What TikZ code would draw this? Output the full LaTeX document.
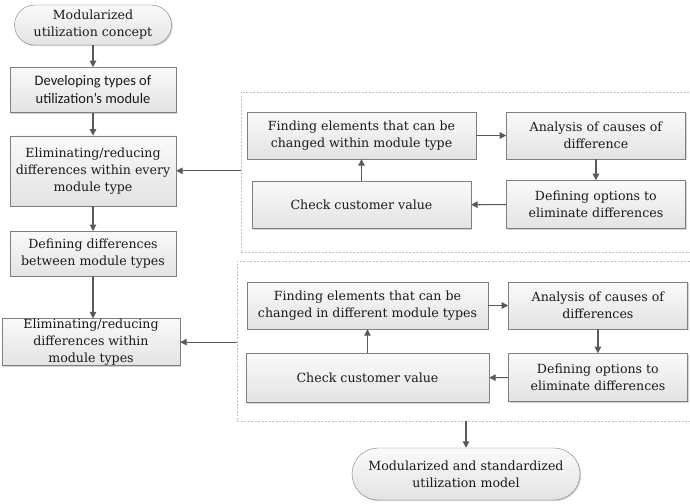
\documentclass[tikz,border=0pt]{standalone}
\usepackage{fontspec}
\setmainfont{DejaVu Serif}
\newfontfamily\calibrilike{Carlito}
\usetikzlibrary{arrows.meta,positioning,shadows}
\definecolor{edge}{HTML}{7F7F7F}
\definecolor{arrowgray}{HTML}{595959}
\definecolor{ink}{HTML}{1A1A1A}
\definecolor{frameline}{HTML}{BFBFBF}

\tikzset{
  stepbox/.style={draw=edge,top color=gray!4,bottom color=gray!22,text=ink,align=center,
    font=\fontsize{12.6}{17}\selectfont,inner sep=1pt,
    drop shadow={shadow xshift=1.2pt,shadow yshift=-1.2pt,opacity=.35,fill=gray}},
  terminal/.style={stepbox,rounded corners=20pt},
  frame/.style={draw=frameline,dash pattern=on 2pt off 1.5pt,line width=.6pt},
  arr/.style={-{Triangle[length=6.5pt,width=6.5pt]},line width=1.2pt,arrowgray},
}

\begin{document}
\begin{tikzpicture}[node distance=22pt and 30pt]
\useasboundingbox (0,0) rectangle (690pt,-503pt);
% main column
\node[terminal,minimum width=157pt,minimum height=40pt] (start) at (93pt,-25pt) {Modularized\\utilization concept};
\node[stepbox,minimum width=166pt,minimum height=45pt,below=22pt of start,font=\calibrilike\fontsize{14.5}{18}\selectfont] (dev) {Developing types of\\utilization’s module};
\node[stepbox,minimum width=166pt,minimum height=70pt,below=23pt of dev] (elim1) {Eliminating/reducing\\differences within every\\module type};
\node[stepbox,minimum width=166pt,minimum height=45pt,below=25pt of elim1] (defd) {Defining differences\\between module types};
\node[stepbox,minimum width=178pt,minimum height=47pt,inner sep=0pt,below=42pt of defd,xshift=-2pt] (elim2) {Eliminating/reducing\\differences within\\module types};
\foreach \a/\b in {start/dev,dev/elim1,elim1/defd}{\draw[arr] (\a)--(\b);}
\draw[arr] (defd)--(defd.south |- elim2.north);

% loop within a module type
\node[frame,minimum width=459pt,minimum height=160pt] (frame1) at (470.5pt,-172pt) {};
\node[stepbox,minimum width=229pt,minimum height=47pt] (find1) at (361.5pt,-135.5pt) {Finding elements that can be\\changed within module type};
\node[stepbox,minimum width=179pt,minimum height=47pt,right=30pt of find1] (ana1) {Analysis of causes of\\difference};
\node[stepbox,minimum width=179pt,minimum height=48pt,below=21pt of ana1] (opt1) {Defining options to\\eliminate differences};
\node[stepbox,minimum width=219pt,minimum height=47pt,below=22pt of find1] (chk1) {Check customer value};
\foreach \a/\b in {find1/ana1,ana1/opt1,opt1/chk1,chk1/find1}{\draw[arr] (\a)--(\b);}
\draw[arr] (elim1.east -| frame1.west)--(elim1);

% loop between module types
\node[frame,minimum width=463pt,minimum height=160pt] (frame2) at (468.5pt,-341pt) {};
\node[stepbox,minimum width=241pt,minimum height=47pt] (find2) at (367.5pt,-305.5pt) {Finding elements that can be\\changed in different module types};
\node[stepbox,minimum width=179pt,minimum height=47pt,right=20pt of find2] (ana2) {Analysis of causes of\\differences};
\node[stepbox,minimum width=179pt,minimum height=48pt,below=24pt of ana2] (opt2) {Defining options to\\eliminate differences};
\node[stepbox,minimum width=243pt,minimum height=49pt,below=24pt of find2] (chk2) {Check customer value};
\foreach \a/\b in {find2/ana2,ana2/opt2,opt2/chk2,chk2/find2}{\draw[arr] (\a)--(\b);}
\draw[arr] (elim2.east -| frame2.west)--(elim2);

\node[terminal,minimum width=228pt,minimum height=52pt,rounded corners=26pt] (model) at (466pt,-474pt) {Modularized and standardized\\utilization model};
\draw[arr] (model.north |- frame2.south)--(model);
\end{tikzpicture}
\end{document}
